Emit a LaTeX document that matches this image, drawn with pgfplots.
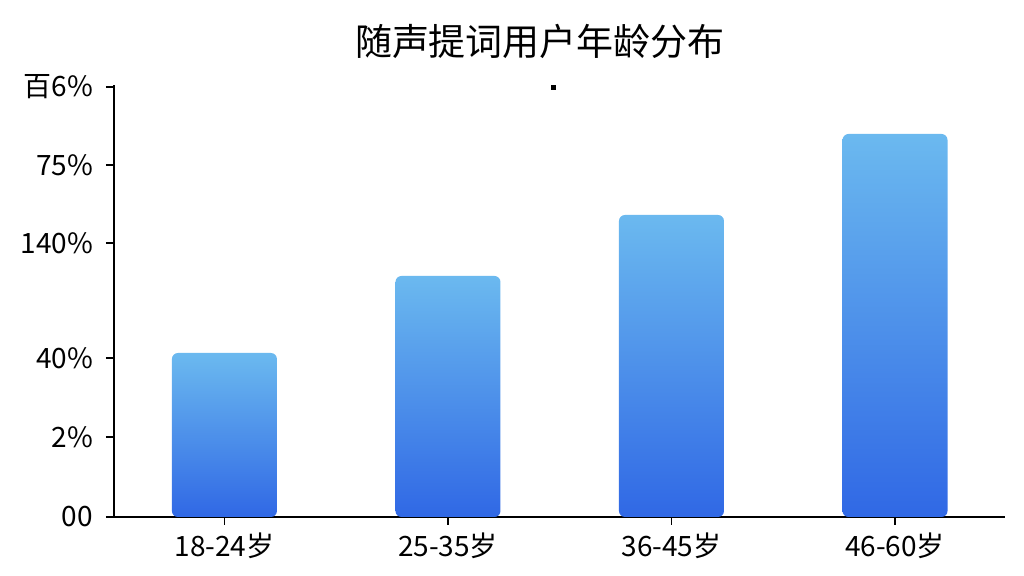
\documentclass[border=0pt]{standalone}
\usepackage{fontspec}
\setmainfont{Noto Sans CJK SC}
\usepackage{pgfplots}
\pgfplotsset{compat=1.18}

\definecolor{bartop}{HTML}{6BB9EF}
\definecolor{barbot}{HTML}{3068E5}

\pgfplotsset{agebar/.style={
    ybar,
    bar width=52.5pt,
    bar shift=0pt,
    draw=none,
    top color=bartop,
    bottom color=barbot,
    rounded corners=3pt,
}}

\begin{document}
\begin{tikzpicture}
  \begin{axis}[
      scale only axis,
      width=445.5pt,
      height=216pt,
      xmin=-0.494, xmax=3.492,
      ymin=0, ymax=432,
      axis x line*=bottom,
      axis y line*=left,
      axis line style={black, line width=0.9pt},
      xtick={0,1,2,3},
      xticklabels={18-24岁,25-35岁,36-45岁,46-60岁},
      ytick={0,80,159,274,352,430},
      yticklabels={00,2\%,40\%,140\%,75\%,百6\%},
      tick style={black, line width=0.9pt},
      major tick length=4pt,
      ticklabel style={font=\fontsize{14}{16}\selectfont},
      yticklabel style={xshift=-3pt},
      xticklabel style={yshift=-0.5pt},
      tick align=outside,
      clip=false,
    ]
    \coordinate (bl) at (rel axis cs:0,0);
    \addplot[agebar] coordinates {(0,164)};
    \addplot[agebar] coordinates {(1,241)};
    \addplot[agebar] coordinates {(2,302)};
    \addplot[agebar] coordinates {(3,383)};
    \node[fill=black, inner sep=0pt, minimum size=2.5pt] at (axis cs:1.474,429) {};
  \end{axis}
  \node[font=\fontsize{18.5}{20}\selectfont] at ([shift={(213pt,238pt)}]bl) {随声提词用户年龄分布};
  \pgfresetboundingbox
  \path ([shift={(-57pt,-29.5pt)}]bl) rectangle ++(512pt,288pt);
\end{tikzpicture}
\end{document}
